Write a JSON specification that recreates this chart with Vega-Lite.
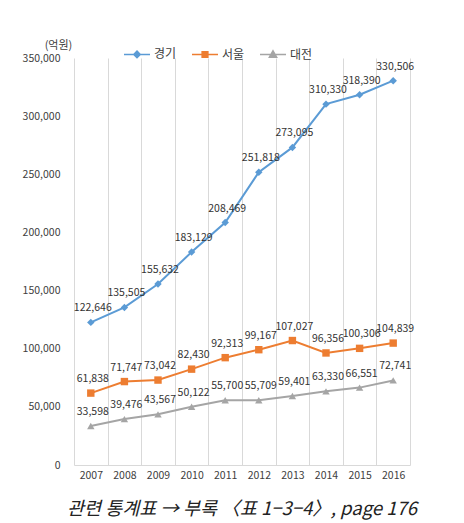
{
  "$schema": "https://vega.github.io/schema/vega-lite/v6.json",
  "width": 336,
  "height": 407,
  "autosize": {"type": "none"},
  "padding": {"left": 74, "top": 58, "right": 54, "bottom": 58},
  "background": "white",
  "config": {"view": {"stroke": null}, "font": "Noto Sans CJK KR"},
  "title": {"text": "관련 통계표 → 부록 〈표 1−3−4〉, page 176", "orient": "bottom", "anchor": "middle", "fontSize": 18.5, "fontStyle": "italic", "fontWeight": "normal", "color": "#222222", "offset": 19},
  "data": {"values": [
    {"year": "2007", "region": "경기", "value": 122646},
    {"year": "2008", "region": "경기", "value": 135505},
    {"year": "2009", "region": "경기", "value": 155632},
    {"year": "2010", "region": "경기", "value": 183129},
    {"year": "2011", "region": "경기", "value": 208469},
    {"year": "2012", "region": "경기", "value": 251818},
    {"year": "2013", "region": "경기", "value": 273095},
    {"year": "2014", "region": "경기", "value": 310330},
    {"year": "2015", "region": "경기", "value": 318390},
    {"year": "2016", "region": "경기", "value": 330506},
    {"year": "2007", "region": "서울", "value": 61838},
    {"year": "2008", "region": "서울", "value": 71747},
    {"year": "2009", "region": "서울", "value": 73042},
    {"year": "2010", "region": "서울", "value": 82430},
    {"year": "2011", "region": "서울", "value": 92313},
    {"year": "2012", "region": "서울", "value": 99167},
    {"year": "2013", "region": "서울", "value": 107027},
    {"year": "2014", "region": "서울", "value": 96356},
    {"year": "2015", "region": "서울", "value": 100306},
    {"year": "2016", "region": "서울", "value": 104839},
    {"year": "2007", "region": "대전", "value": 33598},
    {"year": "2008", "region": "대전", "value": 39476},
    {"year": "2009", "region": "대전", "value": 43567},
    {"year": "2010", "region": "대전", "value": 50122},
    {"year": "2011", "region": "대전", "value": 55700},
    {"year": "2012", "region": "대전", "value": 55709},
    {"year": "2013", "region": "대전", "value": 59401},
    {"year": "2014", "region": "대전", "value": 63330},
    {"year": "2015", "region": "대전", "value": 66551},
    {"year": "2016", "region": "대전", "value": 72741}
  ]},
  "encoding": {
    "x": {"field": "year", "type": "ordinal", "scale": {"type": "band", "paddingInner": 0, "paddingOuter": 0},
      "axis": {"title": null, "labelAngle": 0, "tickBand": "extent", "grid": true, "gridColor": "#d9d9d9", "ticks": false, "domainColor": "#d9d9d9", "labelPadding": 5, "labelFontSize": 10.5, "labelColor": "#404040"}},
    "y": {"field": "value", "type": "quantitative", "scale": {"domain": [0, 350000]},
      "axis": {"title": "(억원)", "titleAngle": 0, "titleX": -16, "titleY": -13, "titleAlign": "center", "titleBaseline": "middle", "titleFontSize": 11, "titleFontWeight": "normal", "titleColor": "#404040", "format": ",d", "values": [0, 50000, 100000, 150000, 200000, 250000, 300000, 350000], "grid": false, "domain": false, "ticks": false, "labelPadding": 14, "labelFontSize": 10.5, "labelColor": "#404040"}},
    "color": {"field": "region", "type": "nominal", "scale": {"domain": ["경기", "서울", "대전"], "range": ["#5B9BD5", "#ED7D31", "#A5A5A5"]},
      "legend": {"orient": "none", "legendX": 49, "legendY": -18, "direction": "horizontal", "title": null, "symbolSize": 676, "symbolStrokeWidth": 2, "labelFontSize": 12, "labelColor": "#404040", "labelOffset": 3, "columnPadding": 12,
        "encode": {"symbols": {"update": {
          "shape": {"signal": "datum.value === '경기' ? 'M-1,0H1M0,-0.25L0.25,0L0,0.25L-0.25,0Z' : datum.value === '서울' ? 'M-1,0H1M-0.22,-0.22H0.22V0.22H-0.22Z' : 'M-1,0H1M0,-0.28L0.28,0.22H-0.28Z'"},
          "fill": {"scale": "color", "field": "value"},
          "stroke": {"scale": "color", "field": "value"},
          "strokeWidth": {"value": 1.5},
          "opacity": {"value": 1}
        }}}}}
  },
  "layer": [
    {"mark": {"type": "line", "strokeWidth": 2}},
    {"mark": {"type": "point", "filled": true, "opacity": 1, "size": 55},
      "encoding": {"shape": {"condition": [{"test": "datum.region === '경기'", "value": "diamond"}, {"test": "datum.region === '서울'", "value": "square"}], "value": "triangle-up"}}},
    {"mark": {"type": "text", "dy": -14, "dx": 2, "fontSize": 10.5},
      "encoding": {"text": {"field": "value", "type": "quantitative", "format": ","}, "color": {"value": "#333333"}}}
  ]
}
